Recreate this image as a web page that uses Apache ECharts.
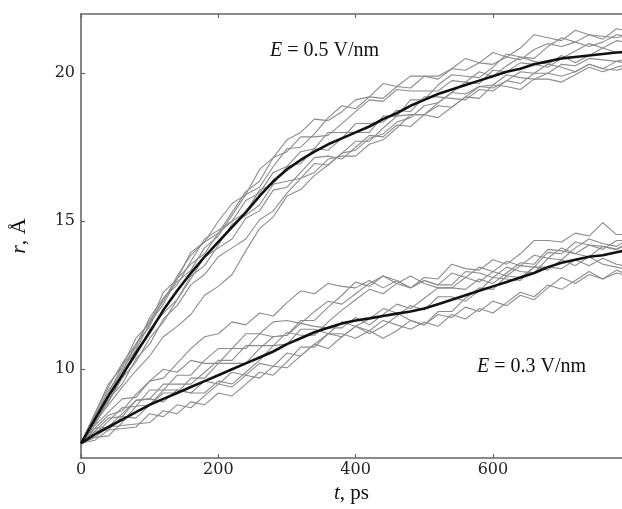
<!DOCTYPE html>
<html>
<head>
<meta charset="utf-8">
<script src="https://cdn.jsdelivr.net/npm/echarts@6/dist/echarts.min.js"></script>
<style>
html,body{margin:0;padding:0;background:#fff;}
#chart{width:622px;height:509px;}
</style>
</head>
<body>
<div id="chart"></div>
<script>
// time points, ps
var times = [0,20,40,60,80,100,120,140,160,180,200,220,240,260,280,300,320,340,360,380,400,420,440,460,480,500,520,540,560,580,600,620,640,660,680,700,720,740,760,780,800];

// E = 0.5 V/nm : mean trajectory
var meanHigh = [7.5,8.3,9.1,9.8,10.55,11.25,12.0,12.65,13.25,13.8,14.3,14.8,15.3,15.85,16.35,16.75,17.07,17.35,17.6,17.8,18.0,18.2,18.45,18.65,18.9,19.1,19.3,19.45,19.6,19.75,19.9,20.05,20.15,20.3,20.4,20.5,20.55,20.6,20.65,20.7,20.72];
// E = 0.5 V/nm : individual runs
var high1 = [7.5,8.4,9.3,9.9,10.85,11.65,12.3,13.15,13.85,14.3,15.0,15.6,15.9,16.75,17.15,17.75,18.0,18.45,18.4,18.7,19.1,19.2,19.65,19.55,19.9,19.9,19.9,20.15,20.1,20.35,20.3,20.55,20.45,20.8,21.0,20.9,21.05,21.3,21.25,21.2,21.3];
var high2 = [7.5,8.2,8.8,9.4,9.95,10.45,11.1,11.45,11.85,12.5,12.8,13.2,14.0,14.75,15.15,15.85,16.07,16.55,16.9,17.3,17.4,17.8,17.95,18.35,18.5,18.9,19.0,19.35,19.3,19.55,19.5,19.75,19.65,20.0,20.0,20.3,20.25,20.5,20.45,20.4,20.52];
var high3 = [7.5,8.5,9.4,10.2,10.85,11.45,12.4,12.95,13.35,14.1,14.5,15.2,15.9,16.15,16.85,17.45,17.5,17.95,18.5,18.9,18.8,19.2,19.15,19.55,19.5,19.9,19.8,20.15,20.5,20.35,20.7,20.55,20.85,21.3,21.2,21.1,21.45,21.3,21.15,21.5,21.42];
var high4 = [7.5,8.1,9.0,9.5,10.35,10.85,11.7,12.15,12.85,13.2,13.8,14.1,14.4,15.05,15.35,15.95,16.45,16.65,17.1,17.2,17.2,17.6,17.75,18.15,18.6,18.6,18.9,18.85,19.2,19.55,19.6,19.95,19.85,19.8,20.0,19.9,20.05,20.3,20.15,20.1,20.22];
var high5 = [7.5,8.4,9.1,10.0,10.65,11.55,12.2,13.05,13.55,13.9,14.6,15.0,15.3,16.05,16.25,16.85,17.35,17.45,18.0,18.0,18.0,18.0,18.55,18.55,19.1,19.1,19.6,19.95,19.9,19.85,20.2,20.65,20.55,20.5,20.9,21.2,21.05,20.9,21.05,21.3,21.22];
var high6 = [7.5,8.3,8.9,9.8,10.45,11.35,11.9,12.35,13.05,13.8,14.1,14.4,15.1,15.35,16.05,16.15,16.65,17.15,17.2,17.1,17.5,17.9,17.85,18.25,18.2,18.6,18.5,18.85,19.2,19.15,19.6,19.55,19.45,19.8,19.8,19.7,19.95,20.2,20.05,20.2,20.32];
var high7 = [7.5,8.5,9.5,10.1,11.05,11.55,12.6,13.05,13.95,14.3,14.6,15.3,16.0,16.35,17.15,17.35,17.85,17.85,17.9,18.3,18.7,19.1,19.05,19.45,19.4,19.4,19.4,19.75,19.7,20.05,19.9,20.25,20.55,20.4,20.3,20.6,20.35,20.6,20.85,20.7,20.82];
var high8 = [7.5,8.2,8.9,9.7,10.25,11.05,11.6,12.35,13.15,13.5,14.2,14.9,15.2,15.55,16.25,16.35,16.45,16.95,16.9,17.3,17.7,17.7,18.15,18.55,18.6,18.6,19.0,19.35,19.7,19.65,20.1,20.05,20.35,20.3,20.2,20.5,20.75,21.0,20.85,21.1,21.02];
var high9 = [7.5,8.4,9.2,10.1,10.75,11.75,12.4,12.85,13.65,14.4,14.7,15.0,15.7,15.95,16.65,16.85,16.95,17.45,17.4,17.8,18.3,18.3,18.35,18.75,18.7,19.2,19.2,19.15,19.1,19.45,19.4,19.75,20.05,20.0,20.3,20.2,20.05,20.3,20.15,20.4,20.32];

// E = 0.3 V/nm : mean trajectory
var meanLow = [7.5,7.8,8.05,8.3,8.55,8.8,9.0,9.2,9.4,9.6,9.8,10.0,10.2,10.4,10.6,10.85,11.05,11.25,11.4,11.55,11.65,11.72,11.8,11.88,11.95,12.05,12.2,12.35,12.5,12.65,12.8,12.95,13.1,13.25,13.45,13.6,13.7,13.8,13.85,13.95,14.05];
// E = 0.3 V/nm : individual runs
var low1 = [7.5,8.0,8.45,8.6,9.15,9.6,9.7,10.2,10.7,11.1,11.2,11.6,11.5,11.9,11.8,12.25,12.65,12.55,12.9,12.8,12.75,13.0,12.75,13.0,12.75,13.0,12.85,13.25,13.1,13.45,13.3,13.65,13.5,13.85,13.75,14.1,13.9,14.2,14.15,14.05,14.25];
var low2 = [7.5,7.6,7.95,8.0,8.05,8.5,8.4,8.8,8.7,9.1,9.5,9.4,9.8,9.7,10.1,10.05,10.45,10.85,10.7,11.1,11.45,11.3,11.65,11.5,11.35,11.6,11.45,11.85,11.7,12.05,11.9,12.25,12.6,12.45,12.85,12.7,13.0,13.3,13.05,13.35,13.15];
var low3 = [7.5,7.9,8.35,8.4,8.95,9.0,9.5,9.5,9.5,9.9,10.3,10.3,10.8,10.8,10.8,11.25,11.15,11.15,11.6,12.0,12.35,12.7,12.55,12.9,12.75,13.1,13.05,13.55,13.4,13.35,13.7,13.55,13.9,14.35,14.35,14.3,14.6,14.5,14.95,14.55,14.55];
var low4 = [7.5,7.7,7.75,8.2,8.75,8.8,9.3,9.3,9.2,9.6,9.5,9.9,9.8,10.2,10.1,10.55,10.45,10.85,11.2,11.1,11.45,11.2,11.45,11.8,12.15,12.0,12.45,12.45,12.3,12.65,13.1,13.05,13.0,13.45,13.45,13.4,13.7,13.5,13.75,13.55,13.45];
var low5 = [7.5,8.1,8.55,9.0,9.05,9.6,10.0,9.9,10.3,10.2,10.2,10.7,10.7,11.2,11.6,11.65,11.55,11.95,12.3,12.2,12.55,12.9,13.15,12.9,13.15,12.9,12.75,12.75,13.1,12.95,13.3,13.15,13.1,13.45,13.35,13.7,13.5,13.8,13.55,13.45,13.35];
var low6 = [7.5,7.7,8.05,8.1,8.15,8.2,8.6,8.5,8.9,8.8,9.2,9.1,9.5,9.9,9.8,10.25,10.75,10.75,11.2,11.2,11.05,11.3,11.05,11.3,11.65,11.5,11.95,11.95,12.4,12.75,12.7,13.15,13.5,13.45,13.95,13.9,14.3,14.2,14.05,14.35,14.35];
var low7 = [7.5,7.9,7.95,8.4,8.35,8.8,9.2,9.2,9.7,9.7,10.2,10.2,10.2,10.7,11.1,11.15,11.65,11.65,12.1,12.5,12.95,12.8,13.15,13.0,12.75,13.0,12.85,12.85,13.3,13.25,13.1,13.45,13.3,13.25,13.75,13.7,14.1,14.4,14.25,14.15,14.45];
var low8 = [7.5,8.0,8.05,8.5,8.95,9.0,8.9,9.3,9.2,9.2,9.6,9.5,9.9,10.3,10.8,10.85,11.35,11.35,11.2,11.6,11.45,11.7,12.05,11.9,11.65,11.5,11.85,11.75,12.1,11.95,12.3,12.15,12.5,12.35,12.75,13.1,12.9,13.2,13.05,13.25,13.15];
var low9 = [7.5,7.8,8.25,8.7,8.75,9.3,9.3,9.8,9.8,10.3,10.7,10.7,11.2,11.2,11.1,11.15,11.55,11.45,11.4,11.4,11.75,11.5,11.85,12.2,12.05,12.4,12.75,12.75,12.7,13.05,12.9,13.25,13.6,13.55,14.05,14.0,13.9,13.8,14.15,14.05,14.35];

// tick labels
var xTicks = [0,200,400,600];
var yTicks = [10,15,20];
var labelHigh = 'E = 0.5 V/nm';
var labelLow = 'E = 0.3 V/nm';

var runs = [high1,high2,high3,high4,high5,high6,high7,high8,high9,low1,low2,low3,low4,low5,low6,low7,low8,low9];

function pairs(arr){ return times.map(function(t,i){ return [t, arr[i]]; }); }

var series = [];
runs.forEach(function(r){
  series.push({type:'line', data:pairs(r), symbol:'none', silent:true,
    lineStyle:{color:'#8c8c8c', width:1.1}, z:2});
});
[meanHigh, meanLow].forEach(function(r){
  series.push({type:'line', data:pairs(r), symbol:'none', silent:true,
    lineStyle:{color:'#111', width:2.6}, z:5});
});

function italE(s){ return s.replace(/^E/, '{i|E}'); }

var chart = echarts.init(document.getElementById('chart'), null, {renderer:'canvas'});
var axisLineStyle = {color:'#666', width:1.6};
var tickFont = 'DejaVu Serif';
chart.setOption({
  animation:false,
  backgroundColor:'#fff',
  grid:{left:81, right:0, top:14, bottom:50, containLabel:false},
  xAxis:[{
    type:'value', min:0, max:788, position:'bottom',
    axisLine:{show:true, lineStyle:axisLineStyle, onZero:false},
    axisTick:{show:true, inside:true, length:4, lineStyle:{color:'#666', width:1.2}, customValues:xTicks},
    axisLabel:{show:true, customValues:xTicks, color:'#222', fontSize:16, fontFamily:tickFont, margin:4},
    splitLine:{show:false},
    name:'{i|t}, ps', nameLocation:'middle', nameGap:22,
    nameTextStyle:{fontFamily:'Liberation Serif', fontSize:21, color:'#111',
      rich:{i:{fontStyle:'italic', fontFamily:'Liberation Serif', fontSize:21, color:'#111'}}}
  },{
    type:'value', min:0, max:788, position:'top',
    axisLine:{show:true, lineStyle:axisLineStyle, onZero:false},
    axisTick:{show:true, inside:true, length:4, lineStyle:{color:'#666', width:1.2}, customValues:xTicks},
    axisLabel:{show:false},
    splitLine:{show:false}
  }],
  yAxis:[{
    type:'value', min:7, max:22, position:'left',
    axisLine:{show:true, lineStyle:axisLineStyle, onZero:false},
    axisTick:{show:true, inside:true, length:4, lineStyle:{color:'#666', width:1.2}, customValues:yTicks},
    axisLabel:{show:true, customValues:yTicks, color:'#222', fontSize:16, fontFamily:tickFont, margin:6},
    splitLine:{show:false},
    name:'{i|r}, Å', nameLocation:'middle', nameGap:51,
    nameTextStyle:{fontFamily:'Liberation Serif', fontSize:22, color:'#111',
      rich:{i:{fontStyle:'italic', fontFamily:'Liberation Serif', fontSize:22, color:'#111'}}}
  }],
  series:series,
  graphic:[
    {type:'text', left:270, top:41, z:10, style:{text:italE(labelHigh), fontFamily:'Liberation Serif', fontSize:20, fill:'#111',
      rich:{i:{fontStyle:'italic', fontFamily:'Liberation Serif', fontSize:20, fill:'#111'}}}},
    {type:'text', left:477, top:357, z:10, style:{text:italE(labelLow), fontFamily:'Liberation Serif', fontSize:20, fill:'#111',
      rich:{i:{fontStyle:'italic', fontFamily:'Liberation Serif', fontSize:20, fill:'#111'}}}}
  ]
});
</script>
</body>
</html>
